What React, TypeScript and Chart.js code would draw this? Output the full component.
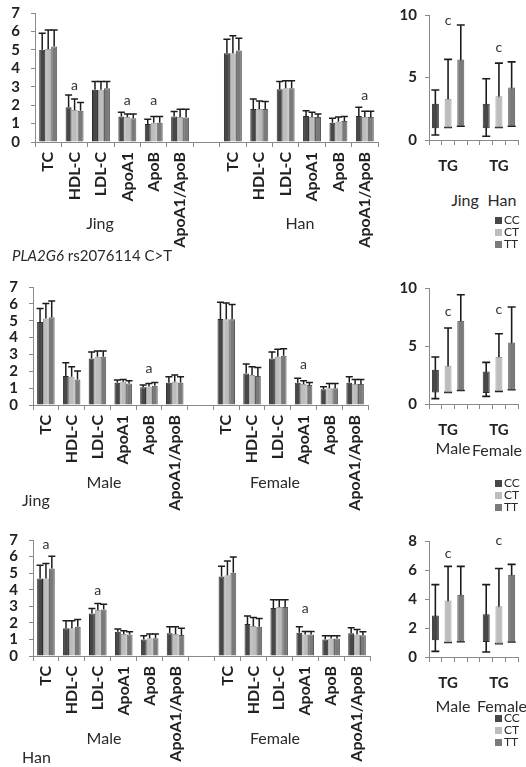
import React, { useEffect, useRef } from 'react';
import { Chart, registerables } from 'chart.js';
Chart.register(...registerables);

const FONT = 'Lato, "Open Sans", "DejaVu Sans", sans-serif';
const AXIS = '#8a8a8a';
const TXT = '#222222';

// ---------- categories ----------
const traits = ['TC', 'HDL-C', 'LDL-C', 'ApoA1', 'ApoB', 'ApoA1/ApoB'];
const lipidCategories = [...traits, '', ...traits];
const genotypes = ['CC', 'CT', 'TT'];
const tgTickLabels = ['', 'TG', '', '', '', 'TG', ''];
const tgSlotGenotype = ['CC', 'CT', 'TT', '', 'CC', 'CT', 'TT'];

// ---------- row 1: Jing vs Han ----------
const ethnicMeanCC = [5.0, 1.88, 2.83, 1.38, 0.98, 1.38, null, 4.82, 1.79, 2.86, 1.41, 1.05, 1.41];
const ethnicMeanCT = [5.05, 1.74, 2.83, 1.35, 1.05, 1.35, null, 4.82, 1.79, 2.92, 1.35, 1.1, 1.35];
const ethnicMeanTT = [5.18, 1.7, 2.92, 1.29, 1.05, 1.33, null, 4.96, 1.79, 2.92, 1.35, 1.14, 1.35];
const ethnicSdCC = [0.9, 0.67, 0.45, 0.23, 0.25, 0.27, null, 0.76, 0.55, 0.42, 0.29, 0.24, 0.47];
const ethnicSdCT = [1.03, 0.6, 0.45, 0.17, 0.33, 0.43, null, 0.94, 0.44, 0.41, 0.26, 0.25, 0.32];
const ethnicSdTT = [0.9, 0.44, 0.36, 0.23, 0.33, 0.45, null, 0.67, 0.41, 0.41, 0.17, 0.24, 0.32];
const ethnicLetterCat = [1, 3, 4, 12];
const ethnicLetterLevel = [3.04, 2.24, 2.24, 2.55];
const ethnicLetterText = ['a', 'a', 'a', 'a'];

// TG (box: lower/upper, whisker: min/max) Jing | Han
const tgEthnicLow = [0.95, 1.0, 1.1, null, 0.95, 1.0, 1.1];
const tgEthnicHigh = [2.9, 3.3, 6.45, null, 2.9, 3.5, 4.2];
const tgEthnicMin = [0.4, 1.0, 1.1, null, 0.3, 1.0, 1.1];
const tgEthnicMax = [4.0, 6.45, 9.2, null, 4.9, 6.15, 6.25];
const tgEthnicLetterSlot = [1, 5];
const tgEthnicLetterLevel = [9.6, 7.44];

// ---------- row 2: Jing, Male vs Female ----------
const jingSexMeanCC = [4.93, 1.72, 2.76, 1.32, 1.05, 1.32, null, 5.1, 1.87, 2.76, 1.32, 0.93, 1.32];
const jingSexMeanCT = [5.13, 1.68, 2.86, 1.38, 1.1, 1.38, null, 5.08, 1.78, 2.86, 1.24, 1.0, 1.24];
const jingSexMeanTT = [5.2, 1.52, 2.86, 1.28, 1.14, 1.32, null, 5.08, 1.72, 2.92, 1.18, 1.0, 1.24];
const jingSexSdCC = [0.79, 0.78, 0.39, 0.16, 0.13, 0.36, null, 1.0, 0.56, 0.39, 0.26, 0.15, 0.36];
const jingSexSdCT = [0.89, 0.59, 0.34, 0.14, 0.18, 0.4, null, 0.97, 0.49, 0.44, 0.2, 0.28, 0.28];
const jingSexSdTT = [0.97, 0.49, 0.34, 0.16, 0.2, 0.36, null, 0.88, 0.51, 0.41, 0.16, 0.28, 0.28];
const jingSexLetterCat = [4, 10];
const jingSexLetterLevel = [2.19, 2.43];
const jingSexLetterText = ['a', 'a'];

const tgJingSexLow = [1.0, 1.0, 1.17, null, 0.95, 1.09, 1.23];
const tgJingSexHigh = [2.96, 3.3, 7.18, null, 2.81, 4.05, 5.31];
const tgJingSexMin = [0.46, 1.0, 1.17, null, 0.66, 1.09, 1.23];
const tgJingSexMax = [4.05, 6.55, 9.42, null, 3.59, 6.06, 8.36];
const tgJingSexLetterSlot = [1, 5];
const tgJingSexLetterLevel = [7.96, 8.13];

// ---------- row 3: Han, Male vs Female ----------
const hanSexMeanCC = [4.68, 1.67, 2.57, 1.47, 1.0, 1.37, null, 4.8, 1.93, 2.9, 1.4, 1.0, 1.37];
const hanSexMeanCT = [4.68, 1.67, 2.77, 1.33, 1.07, 1.33, null, 4.88, 1.81, 2.95, 1.3, 1.05, 1.3];
const hanSexMeanTT = [5.28, 1.77, 2.8, 1.3, 1.07, 1.27, null, 5.02, 1.77, 2.95, 1.3, 1.05, 1.25];
const hanSexSdCC = [0.8, 0.46, 0.3, 0.16, 0.22, 0.4, null, 0.62, 0.48, 0.5, 0.37, 0.22, 0.33];
const hanSexSdCT = [0.9, 0.46, 0.4, 0.2, 0.26, 0.44, null, 0.86, 0.52, 0.45, 0.18, 0.17, 0.3];
const hanSexSdTT = [0.74, 0.44, 0.33, 0.17, 0.26, 0.4, null, 0.96, 0.5, 0.45, 0.18, 0.17, 0.22];
const hanSexLetterCat = [0, 2, 10];
const hanSexLetterLevel = [6.75, 3.98, 2.87];
const hanSexLetterText = ['a', 'a', 'a'];

const tgHanSexLow = [1.15, 1.0, 1.05, null, 1.03, 0.92, 1.03];
const tgHanSexHigh = [2.87, 3.9, 4.3, null, 2.94, 3.5, 5.68];
const tgHanSexMin = [0.39, 1.0, 1.05, null, 0.35, 0.92, 1.03];
const tgHanSexMax = [4.99, 6.25, 6.25, null, 4.99, 6.1, 6.39];
const tgHanSexLetterSlot = [1, 5];
const tgHanSexLetterLevel = [7.15, 8.05];

const fillColor: Record<string, string> = { CC: '#474747', CT: '#bdbdbd', TT: '#7a7a7a' };
const edgeColor: Record<string, string> = { CC: '#2c2c2c', CT: '#9d9d9d', TT: '#595959' };

type Area = { l: number; r: number; t: number; b: number };

function fixedLayout(width: number, height: number, area: Area) {
  return {
    layout: { padding: { top: area.t, right: width - area.r, left: 0, bottom: 0 } },
    xFit: (s: any) => {
      s.height = height - area.b;
      s.paddingLeft = 0;
      s.paddingRight = 0;
    },
    yFit: (s: any) => {
      s.width = area.l;
      s.paddingTop = 0;
      s.paddingBottom = 0;
    },
  };
}

function letterPlugin(cats: number[], levels: number[], texts: string[]) {
  return {
    id: 'letters',
    afterDatasetsDraw(chart: any) {
      const ctx = chart.ctx;
      const xs = chart.scales.x;
      const ys = chart.scales.y;
      ctx.save();
      ctx.fillStyle = '#333';
      ctx.font = `14px ${FONT}`;
      ctx.textAlign = 'center';
      ctx.textBaseline = 'middle';
      cats.forEach((c, i) => {
        ctx.fillText(texts[i], xs.getPixelForValue(c), ys.getPixelForValue(levels[i]));
      });
      ctx.restore();
    },
  };
}

type LipidProps = {
  left: number; top: number; width: number; height: number; area: Area;
  means: (number | null)[][]; sds: (number | null)[][];
  letterCat: number[]; letterLevel: number[]; letterText: string[];
};

function LipidChart(p: LipidProps) {
  const ref = useRef<HTMLCanvasElement>(null);
  useEffect(() => {
    const fx = fixedLayout(p.width, p.height, p.area);
    const errorPlugin = {
      id: 'errorBars',
      afterDatasetsDraw(chart: any) {
        const ctx = chart.ctx;
        const ys = chart.scales.y;
        ctx.save();
        ctx.strokeStyle = '#1c1c1c';
        ctx.lineWidth = 1.5;
        chart.data.datasets.forEach((_ds: any, di: number) => {
          const meta = chart.getDatasetMeta(di);
          meta.data.forEach((bar: any, i: number) => {
            const m = p.means[di][i];
            const s = p.sds[di][i];
            if (m == null || s == null) return;
            const x = bar.x;
            const y0 = ys.getPixelForValue(m);
            const y1 = ys.getPixelForValue(m + s);
            ctx.beginPath();
            ctx.moveTo(x, y0);
            ctx.lineTo(x, y1);
            ctx.moveTo(x - 3.5, y1);
            ctx.lineTo(x + 3.5, y1);
            ctx.stroke();
          });
        });
        ctx.restore();
      },
    };
    const chart = new Chart(ref.current as HTMLCanvasElement, {
      type: 'bar',
      data: {
        labels: lipidCategories,
        datasets: genotypes.map((g, gi) => ({
          label: g,
          data: p.means[gi] as any,
          backgroundColor: fillColor[g],
          borderColor: edgeColor[g],
          borderWidth: 1,
          categoryPercentage: 0.68,
          barPercentage: 1,
        })),
      },
      options: {
        responsive: false,
        animation: false,
        layout: fx.layout,
        plugins: { legend: { display: false }, tooltip: { enabled: false } },
        scales: {
          x: {
            grid: { drawOnChartArea: false, drawTicks: true, tickLength: 5, color: AXIS, offset: true },
            border: { color: AXIS, width: 1 },
            ticks: {
              autoSkip: false, maxRotation: 90, minRotation: 90, padding: 5, color: TXT,
              font: { family: FONT, size: 16, weight: 'bold' },
            },
            afterFit: fx.xFit,
          },
          y: {
            min: 0, max: 7,
            grid: { drawOnChartArea: false, drawTicks: true, tickLength: 4, color: AXIS },
            border: { color: AXIS, width: 1 },
            ticks: { stepSize: 1, autoSkip: false, padding: 11, color: TXT, font: { family: FONT, size: 15, weight: 'bold' } },
            afterFit: fx.yFit,
          },
        },
      } as any,
      plugins: [errorPlugin, letterPlugin(p.letterCat, p.letterLevel, p.letterText)],
    });
    return () => chart.destroy();
  }, []);
  return (
    <canvas ref={ref} width={p.width} height={p.height}
      style={{ position: 'absolute', left: p.left, top: p.top, width: p.width, height: p.height }} />
  );
}

type TgProps = {
  left: number; top: number; width: number; height: number; area: Area;
  low: (number | null)[]; high: (number | null)[]; min: (number | null)[]; max: (number | null)[];
  yMax: number; step: number; letterSlot: number[]; letterLevel: number[];
};

function TgChart(p: TgProps) {
  const ref = useRef<HTMLCanvasElement>(null);
  useEffect(() => {
    const fx = fixedLayout(p.width, p.height, p.area);
    const whiskerPlugin = {
      id: 'whiskers',
      beforeDatasetsDraw(chart: any) {
        const ctx = chart.ctx;
        const ys = chart.scales.y;
        const meta = chart.getDatasetMeta(0);
        ctx.save();
        ctx.strokeStyle = '#1c1c1c';
        ctx.lineWidth = 1.6;
        meta.data.forEach((bar: any, i: number) => {
          const lo = p.min[i];
          const hi = p.max[i];
          if (lo == null || hi == null) return;
          const x = bar.x;
          const y0 = ys.getPixelForValue(lo);
          const y1 = ys.getPixelForValue(hi);
          ctx.beginPath();
          ctx.moveTo(x, y0);
          ctx.lineTo(x, y1);
          ctx.moveTo(x - 4, y0);
          ctx.lineTo(x + 4, y0);
          ctx.moveTo(x - 4, y1);
          ctx.lineTo(x + 4, y1);
          ctx.stroke();
        });
        ctx.restore();
      },
    };
    const chart = new Chart(ref.current as HTMLCanvasElement, {
      type: 'bar',
      data: {
        labels: tgTickLabels,
        datasets: [
          {
            label: 'TG',
            data: p.low.map((lo, i) => (lo == null ? null : [lo, p.high[i]])) as any,
            backgroundColor: tgSlotGenotype.map((g) => fillColor[g] || 'transparent'),
            borderColor: tgSlotGenotype.map((g) => edgeColor[g] || 'transparent'),
            borderWidth: 1,
            borderSkipped: false,
            categoryPercentage: 1,
            barPercentage: 0.55,
          },
        ],
      },
      options: {
        responsive: false,
        animation: false,
        layout: fx.layout,
        plugins: { legend: { display: false }, tooltip: { enabled: false } },
        scales: {
          x: {
            grid: { drawOnChartArea: false, drawTicks: true, tickLength: 5, color: AXIS, offset: true },
            border: { color: AXIS, width: 1 },
            ticks: {
              autoSkip: false, maxRotation: 0, minRotation: 0, padding: 12, color: TXT,
              font: { family: FONT, size: 15, weight: 'bold' },
            },
            afterFit: fx.xFit,
          },
          y: {
            min: 0, max: p.yMax,
            grid: { drawOnChartArea: false, drawTicks: true, tickLength: 4, color: AXIS },
            border: { color: AXIS, width: 1 },
            ticks: { stepSize: p.step, autoSkip: false, padding: 8, color: TXT, font: { family: FONT, size: 15, weight: 'bold' } },
            afterFit: fx.yFit,
          },
        },
      } as any,
      plugins: [whiskerPlugin, letterPlugin(p.letterSlot, p.letterLevel, p.letterSlot.map(() => 'c'))],
    });
    return () => chart.destroy();
  }, []);
  return (
    <canvas ref={ref} width={p.width} height={p.height}
      style={{ position: 'absolute', left: p.left, top: p.top, width: p.width, height: p.height }} />
  );
}

function Label({ x, y, text, size = 16, align = 'center' }: { x: number; y: number; text: string; size?: number; align?: string }) {
  return (
    <div
      style={{
        position: 'absolute', left: x, top: y,
        transform: align === 'center' ? 'translate(-50%, -50%)' : 'translate(0, -50%)',
        fontFamily: FONT, fontSize: size, color: '#2a2a2a', whiteSpace: 'nowrap', lineHeight: 1,
      }}
    >
      {text}
    </div>
  );
}

function Legend({ x, y }: { x: number; y: number }) {
  return (
    <div style={{ position: 'absolute', left: x, top: y, fontFamily: FONT, fontSize: 12, color: '#2a2a2a' }}>
      {genotypes.map((g) => (
        <div key={g} style={{ position: 'relative', height: 12, lineHeight: '12px', whiteSpace: 'nowrap' }}>
          <span style={{ position: 'absolute', left: 0, top: 3, width: 7, height: 7, background: fillColor[g] }} />
          <span style={{ position: 'absolute', left: 9, top: 0 }}>{g}</span>
        </div>
      ))}
    </div>
  );
}

export default function App() {
  return (
    <div style={{ position: 'absolute', left: 0, top: 0, width: 526, height: 767, background: '#ffffff', overflow: 'hidden' }}>
      {/* Row 1 */}
      <LipidChart left={0} top={0} width={390} height={265} area={{ l: 35, r: 378, t: 13, b: 142 }}
        means={[ethnicMeanCC, ethnicMeanCT, ethnicMeanTT]} sds={[ethnicSdCC, ethnicSdCT, ethnicSdTT]}
        letterCat={ethnicLetterCat} letterLevel={ethnicLetterLevel} letterText={ethnicLetterText} />
      <TgChart left={390} top={0} width={136} height={180} area={{ l: 39, r: 128, t: 15, b: 140 }}
        low={tgEthnicLow} high={tgEthnicHigh} min={tgEthnicMin} max={tgEthnicMax} yMax={10} step={5}
        letterSlot={tgEthnicLetterSlot} letterLevel={tgEthnicLetterLevel} />
      <Label x={100} y={223} text="Jing" />
      <Label x={300} y={223} text="Han" />
      <Label x={465} y={200} text="Jing" />
      <Label x={502} y={200} text="Han" />
      <Legend x={495} y={214} />
      <div style={{ position: 'absolute', left: 12, top: 255, transform: 'translateY(-50%)', fontFamily: FONT, fontSize: 15, color: '#2a2a2a', whiteSpace: 'nowrap', lineHeight: 1 }}>
        <i>PLA2G6</i> rs2076114 C&gt;T
      </div>

      {/* Row 2 */}
      <LipidChart left={0} top={270} width={390} height={265} area={{ l: 33, r: 368, t: 17, b: 135 }}
        means={[jingSexMeanCC, jingSexMeanCT, jingSexMeanTT]} sds={[jingSexSdCC, jingSexSdCT, jingSexSdTT]}
        letterCat={jingSexLetterCat} letterLevel={jingSexLetterLevel} letterText={jingSexLetterText} />
      <TgChart left={390} top={270} width={136} height={180} area={{ l: 39, r: 128, t: 18, b: 134 }}
        low={tgJingSexLow} high={tgJingSexHigh} min={tgJingSexMin} max={tgJingSexMax} yMax={10} step={5}
        letterSlot={tgJingSexLetterSlot} letterLevel={tgJingSexLetterLevel} />
      <Label x={104} y={482} text="Male" />
      <Label x={275} y={482} text="Female" />
      <Label x={22} y={500} text="Jing" align="left" />
      <Label x={453} y={448} text="Male" />
      <Label x={497} y={450} text="Female" />
      <Legend x={495} y={477} />

      {/* Row 3 */}
      <LipidChart left={0} top={525} width={390} height={242} area={{ l: 33, r: 370, t: 15, b: 131 }}
        means={[hanSexMeanCC, hanSexMeanCT, hanSexMeanTT]} sds={[hanSexSdCC, hanSexSdCT, hanSexSdTT]}
        letterCat={hanSexLetterCat} letterLevel={hanSexLetterLevel} letterText={hanSexLetterText} />
      <TgChart left={390} top={525} width={136} height={180} area={{ l: 39, r: 128, t: 16, b: 132 }}
        low={tgHanSexLow} high={tgHanSexHigh} min={tgHanSexMin} max={tgHanSexMax} yMax={8} step={2}
        letterSlot={tgHanSexLetterSlot} letterLevel={tgHanSexLetterLevel} />
      <Label x={104} y={738} text="Male" />
      <Label x={275} y={738} text="Female" />
      <Label x={22} y={757} text="Han" align="left" />
      <Label x={453} y={706} text="Male" />
      <Label x={502} y={706} text="Female" />
      <Legend x={495} y={712} />
    </div>
  );
}
